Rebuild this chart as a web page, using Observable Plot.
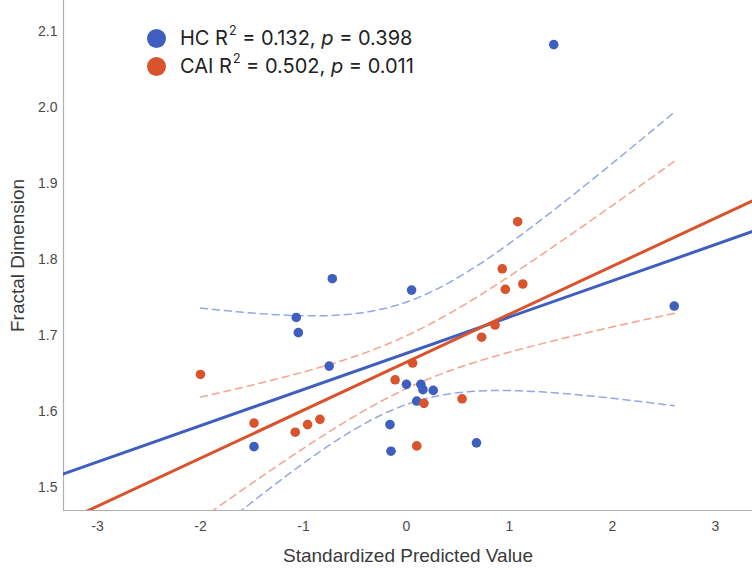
<!DOCTYPE html>
<html><head><meta charset="utf-8">
<script src="https://cdn.jsdelivr.net/npm/d3@7"></script>
<script src="https://cdn.jsdelivr.net/npm/@observablehq/plot@0.6"></script>
<style>
body{margin:0;background:#fff;}
#wrap{position:relative;width:752px;height:570px;}
#legend{position:absolute;left:147px;top:24px;font-family:Inter,"Liberation Sans",sans-serif;font-size:20px;color:#222;line-height:28px;}
.item{display:flex;align-items:center;white-space:nowrap;}
.sw{display:inline-block;width:19px;height:19px;border-radius:50%;margin-right:14px;}
.sup{font-size:0.62em;position:relative;top:-0.55em;margin-left:1px;}
</style></head><body>
<div id="wrap"><div id="legend"></div></div>
<script>
// ---- data ----
const groups = ["HC", "CAI"];
const hcX = [-0.72, 0.05, -1.07, -1.05, -0.75, 0.00, 0.14, 0.16, 0.26, 0.10, -1.48, -0.16, -0.15, 0.68, 1.43, 2.60];
const hcY = [1.775, 1.760, 1.724, 1.704, 1.660, 1.636, 1.636, 1.629, 1.628, 1.614, 1.554, 1.583, 1.548, 1.559, 2.083, 1.739];
const caiX = [-2.00, -0.11, 0.06, 0.17, 0.54, -1.48, -1.08, -0.96, -0.84, 0.10, 0.73, 0.86, 1.08, 0.93, 0.96, 1.13];
const caiY = [1.649, 1.642, 1.664, 1.611, 1.617, 1.585, 1.573, 1.583, 1.590, 1.555, 1.698, 1.714, 1.850, 1.788, 1.761, 1.768];
const legendR2 = ["0.132", "0.502"];
const legendP = ["0.398", "0.011"];
const xTicks = [-3, -2, -1, 0, 1, 2, 3];
const yTicks = [1.5, 1.6, 1.7, 1.8, 1.9, 2.0, 2.1];
const xDomain = [-3.33, 3.36];
const yDomain = [1.470, 2.141];
const colors = ["#3f5fbf", "#d9532c"];
const ciColors = ["#95a7e3", "#f3a38e"];
const tCrit = 2.145; // t(0.975, df = 14)

// ---- build tables ----
const pts = [
  ...hcX.map((x, i) => ({group: "HC", x, y: hcY[i]})),
  ...caiX.map((x, i) => ({group: "CAI", x, y: caiY[i]}))
];
function fit(xs, ys) {
  const n = xs.length, mx = d3.mean(xs), my = d3.mean(ys);
  let sxx = 0, sxy = 0;
  for (let i = 0; i < n; i++) { sxx += (xs[i]-mx)**2; sxy += (xs[i]-mx)*(ys[i]-my); }
  const b = sxy / sxx, a = my - b * mx;
  let sse = 0;
  for (let i = 0; i < n; i++) sse += (ys[i] - a - b*xs[i])**2;
  return {a, b, s: Math.sqrt(sse/(n-2)), n, mx, sxx};
}
const fits = {HC: fit(hcX, hcY), CAI: fit(caiX, caiY)};
const allX = [...hcX, ...caiX];
const xmin = d3.min(allX), xmax = d3.max(allX);
const lines = [], ci = [];
for (const g of groups) {
  const f = fits[g];
  for (const x of xDomain) lines.push({group: g, x, y: f.a + f.b*x});
  for (let i = 0; i <= 120; i++) {
    const x = xmin + (xmax - xmin) * i / 120;
    const yh = f.a + f.b*x;
    const se = f.s * Math.sqrt(1/f.n + (x - f.mx)**2 / f.sxx);
    ci.push({group: g, x, lo: yh - tCrit*se, hi: yh + tCrit*se});
  }
}
const colorOf = g => colors[groups.indexOf(g)];
const ciColorOf = g => ciColors[groups.indexOf(g)];

const chart = Plot.plot({
  width: 752, height: 570,
  marginLeft: 63, marginRight: 0, marginTop: 0, marginBottom: 60,
  x: {domain: xDomain},
  y: {domain: yDomain},
  style: {fontFamily: "'Liberation Sans', Arial, sans-serif", fontSize: "14px", color: "#4a4a4a", background: "#fff"},
  marks: [
    Plot.ruleX([xDomain[0]], {stroke: "#b0b0b0", strokeWidth: 1.2}),
    Plot.ruleY([yDomain[0]], {stroke: "#b0b0b0", strokeWidth: 1.2}),
    Plot.axisX({ticks: xTicks, tickSize: 0, tickPadding: 11, label: null, tickFormat: d => d}),
    Plot.axisY({ticks: yTicks, tickSize: 0, tickPadding: 6, label: null, tickFormat: d3.format(".1f")}),
    ...groups.map(g => Plot.line(ci.filter(d => d.group === g), {x: "x", y: "hi", stroke: ciColorOf(g), strokeWidth: 1.5, strokeDasharray: "7,5", clip: true})),
    ...groups.map(g => Plot.line(ci.filter(d => d.group === g), {x: "x", y: "lo", stroke: ciColorOf(g), strokeWidth: 1.5, strokeDasharray: "7,5", clip: true})),
    ...groups.map(g => Plot.line(lines.filter(d => d.group === g), {x: "x", y: "y", stroke: colorOf(g), strokeWidth: 3, clip: true})),
    ...groups.map(g => Plot.dot(pts.filter(d => d.group === g), {x: "x", y: "y", r: 4.8, fill: colorOf(g), stroke: "none"})),
    Plot.text(["Standardized Predicted Value"], {text: d => d, frameAnchor: "bottom", textAnchor: "middle", dy: 51, fontSize: 19, fill: "#3a3a3a"}),
    Plot.text(["Fractal Dimension"], {text: d => d, frameAnchor: "left", textAnchor: "middle", dx: -46, rotate: -90, fontSize: 19, fill: "#3a3a3a"})
  ]
});
document.getElementById("wrap").prepend(chart);

const legend = document.getElementById("legend");
groups.forEach((g, i) => {
  const row = document.createElement("div");
  row.className = "item";
  row.innerHTML = `<span class="sw" style="background:${colors[i]}"></span>${g}&nbsp;R<span class="sup">2</span>&nbsp;= ${legendR2[i]}, <i>&nbsp;p</i>&nbsp;= ${legendP[i]}`;
  legend.appendChild(row);
});
</script>
</body></html>
